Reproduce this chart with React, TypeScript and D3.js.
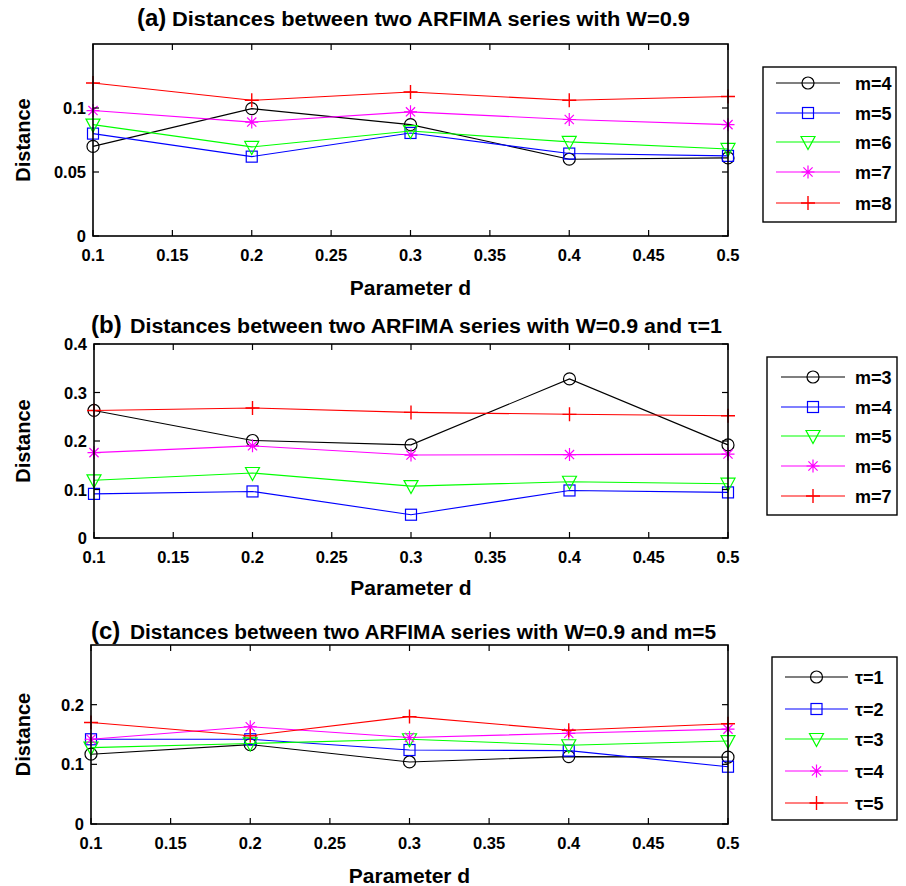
import React from "react";
import * as d3 from "d3";

// Parameter d values (x positions of every series)
const dValues = [0.1, 0.2, 0.3, 0.4, 0.5];
const xTickValues = [0.1, 0.15, 0.2, 0.25, 0.3, 0.35, 0.4, 0.45, 0.5];

// Panel (a): W=0.9, embedding dimension m
const aLabels = ["m=4", "m=5", "m=6", "m=7", "m=8"];
const aM4 = [0.07, 0.0995, 0.087, 0.06, 0.061];
const aM5 = [0.08, 0.062, 0.0805, 0.0644, 0.0626];
const aM6 = [0.087, 0.0696, 0.082, 0.0735, 0.068];
const aM7 = [0.098, 0.089, 0.097, 0.091, 0.087];
const aM8 = [0.1195, 0.106, 0.1125, 0.106, 0.109];
const aYTicks = [0, 0.05, 0.1];

// Panel (b): W=0.9, tau=1
const bLabels = ["m=3", "m=4", "m=5", "m=6", "m=7"];
const bM3 = [0.263, 0.201, 0.192, 0.328, 0.192];
const bM4 = [0.091, 0.096, 0.048, 0.098, 0.094];
const bM5 = [0.119, 0.134, 0.107, 0.116, 0.112];
const bM6 = [0.176, 0.19, 0.171, 0.172, 0.173];
const bM7 = [0.263, 0.268, 0.259, 0.255, 0.252];
const bYTicks = [0, 0.1, 0.2, 0.3, 0.4];

// Panel (c): W=0.9, m=5, delay tau
const cLabels = ["τ=1", "τ=2", "τ=3", "τ=4", "τ=5"];
const cT1 = [0.117, 0.133, 0.104, 0.113, 0.112];
const cT2 = [0.142, 0.142, 0.124, 0.123, 0.096];
const cT3 = [0.128, 0.135, 0.142, 0.132, 0.139];
const cT4 = [0.142, 0.163, 0.145, 0.152, 0.159];
const cT5 = [0.17, 0.148, 0.18, 0.157, 0.168];
const cYTicks = [0, 0.1, 0.2];

const colors = ["#000000", "#0000ff", "#00ff00", "#ff00ff", "#ff0000"];
const markers = ["circle", "square", "triangle", "star", "plus"];

const FONT = "'Liberation Sans', Arial, Helvetica, sans-serif";

function Marker({ type, x, y, color }: { type: string; x: number; y: number; color: string }) {
  const sw = 1.2;
  if (type === "circle") return <circle cx={x} cy={y} r={6} fill="none" stroke={color} strokeWidth={sw} />;
  if (type === "square") return <rect x={x - 5.5} y={y - 5.5} width={11} height={11} fill="none" stroke={color} strokeWidth={sw} />;
  if (type === "triangle") {
    const p = `M${x - 7},${y - 5.5} L${x + 7},${y - 5.5} L${x},${y + 7.5} Z`;
    return <path d={p} fill="none" stroke={color} strokeWidth={sw} />;
  }
  if (type === "star") {
    const s = 6.5, t = 4.6;
    const p = `M${x - s},${y} L${x + s},${y} M${x},${y - s} L${x},${y + s} M${x - t},${y - t} L${x + t},${y + t} M${x - t},${y + t} L${x + t},${y - t}`;
    return <path d={p} fill="none" stroke={color} strokeWidth={sw} />;
  }
  const s = 7;
  return <path d={`M${x - s},${y} L${x + s},${y} M${x},${y - s} L${x},${y + s}`} fill="none" stroke={color} strokeWidth={1.4} />;
}

type PanelProps = {
  tag: string;
  title: string;
  tagX: number;
  titleX: number;
  titleY: number;
  titleLen: number;
  series: number[][];
  labels: string[];
  yMax: number;
  yTicks: number[];
  left: number;
  right: number;
  top: number;
  bottom: number;
  legend: { x: number; y: number; w: number; h: number; rowY: number[]; lineX0: number; lineX1: number; textX: number };
  xLabelY: number;
};

function Panel(p: PanelProps) {
  const x = d3.scaleLinear().domain([0.1, 0.5]).range([p.left, p.right]);
  const y = d3.scaleLinear().domain([0, p.yMax]).range([p.bottom, p.top]);
  const line = d3
    .line<number>()
    .x((_, i) => x(dValues[i]))
    .y((v) => y(v));
  const tickLen = 6;
  const fmt = (v: number) => (v === 0 ? "0" : String(+v.toFixed(2)));
  const midY = (p.top + p.bottom) / 2;
  const lg = p.legend;
  return (
    <g>
      {/* title */}
      <text x={p.tagX} y={p.titleY} fontFamily={FONT} fontWeight="bold" fontSize={24} fill="#000">
        {p.tag}
      </text>
      <text
        x={p.titleX}
        y={p.titleY}
        fontFamily={FONT}
        fontWeight="bold"
        fontSize={20}
        fill="#000"
        textLength={p.titleLen}
        lengthAdjust="spacingAndGlyphs"
      >
        {p.title}
      </text>
      {/* series lines then markers */}
      {p.series.map((s, i) => (
        <g key={i}>
          <path d={line(s) || ""} fill="none" stroke={colors[i]} strokeWidth={1.1} />
          {s.map((v, j) => (
            <Marker key={j} type={markers[i]} x={x(dValues[j])} y={y(v)} color={colors[i]} />
          ))}
        </g>
      ))}
      {/* frame */}
      <rect x={p.left} y={p.top} width={p.right - p.left} height={p.bottom - p.top} fill="none" stroke="#000" strokeWidth={1.6} />
      {/* x ticks */}
      {xTickValues.map((t) => (
        <g key={t}>
          <line x1={x(t)} x2={x(t)} y1={p.bottom} y2={p.bottom - tickLen} stroke="#000" strokeWidth={1.2} />
          <line x1={x(t)} x2={x(t)} y1={p.top} y2={p.top + tickLen} stroke="#000" strokeWidth={1.2} />
          <text x={x(t)} y={p.bottom + 25} textAnchor="middle" fontFamily={FONT} fontWeight="bold" fontSize={16.5}>
            {fmt(t)}
          </text>
        </g>
      ))}
      {/* y ticks */}
      {p.yTicks.map((t) => (
        <g key={t}>
          <line x1={p.left} x2={p.left + tickLen} y1={y(t)} y2={y(t)} stroke="#000" strokeWidth={1.2} />
          <line x1={p.right} x2={p.right - tickLen} y1={y(t)} y2={y(t)} stroke="#000" strokeWidth={1.2} />
          <text x={p.left - 7} y={y(t) + 6} textAnchor="end" fontFamily={FONT} fontWeight="bold" fontSize={16.5}>
            {fmt(t)}
          </text>
        </g>
      ))}
      {/* axis labels */}
      <text x={(p.left + p.right) / 2} y={p.xLabelY} textAnchor="middle" fontFamily={FONT} fontWeight="bold" fontSize={21}>
        Parameter d
      </text>
      <text
        transform={`translate(30,${midY}) rotate(-90)`}
        textAnchor="middle"
        fontFamily={FONT}
        fontWeight="bold"
        fontSize={20}
      >
        Distance
      </text>
      {/* legend */}
      <rect x={lg.x} y={lg.y} width={lg.w} height={lg.h} fill="#fff" stroke="#000" strokeWidth={1.4} />
      {p.labels.map((lab, i) => (
        <g key={lab}>
          <line x1={lg.lineX0} x2={lg.lineX1} y1={lg.rowY[i]} y2={lg.rowY[i]} stroke={colors[i]} strokeWidth={1.1} />
          <Marker type={markers[i]} x={(lg.lineX0 + lg.lineX1) / 2} y={lg.rowY[i]} color={colors[i]} />
          <text x={lg.textX} y={lg.rowY[i] + 6.5} fontFamily={FONT} fontWeight="bold" fontSize={18}>
            {lab}
          </text>
        </g>
      ))}
    </g>
  );
}

export default function App() {
  return (
    <svg
      width={906}
      height={886}
      viewBox="0 0 906 886"
      style={{ position: "absolute", left: 0, top: 0, display: "block", background: "#fff" }}
    >
      <rect width={906} height={886} fill="#fff" />
      <Panel
        tag="(a)"
        title="Distances between two ARFIMA series with W=0.9"
        tagX={137}
        titleX={172}
        titleY={26}
        titleLen={518}
        series={[aM4, aM5, aM6, aM7, aM8]}
        labels={aLabels}
        yMax={0.15}
        yTicks={aYTicks}
        left={93}
        right={728}
        top={44}
        bottom={236}
        xLabelY={295}
        legend={{ x: 763, y: 67, w: 133, h: 155, rowY: [83, 113, 142, 172, 203], lineX0: 776, lineX1: 840, textX: 855 }}
      />
      <Panel
        tag="(b)"
        title="Distances between two ARFIMA series with W=0.9 and τ=1"
        tagX={91}
        titleX={130}
        titleY={333}
        titleLen={592}
        series={[bM3, bM4, bM5, bM6, bM7]}
        labels={bLabels}
        yMax={0.4}
        yTicks={bYTicks}
        left={94}
        right={728}
        top={344}
        bottom={538}
        xLabelY={595}
        legend={{ x: 767, y: 357, w: 130, h: 158, rowY: [377, 407, 436, 466, 496], lineX0: 781, lineX1: 845, textX: 855 }}
      />
      <Panel
        tag="(c)"
        title="Distances between two ARFIMA series with W=0.9 and m=5"
        tagX={91}
        titleX={130}
        titleY={639}
        titleLen={586}
        series={[cT1, cT2, cT3, cT4, cT5]}
        labels={cLabels}
        yMax={0.3}
        yTicks={cYTicks}
        left={91}
        right={728}
        top={645}
        bottom={824}
        xLabelY={883}
        legend={{ x: 772, y: 657, w: 125, h: 163, rowY: [677, 709, 739, 771, 803], lineX0: 785, lineX1: 848, textX: 855 }}
      />
    </svg>
  );
}
